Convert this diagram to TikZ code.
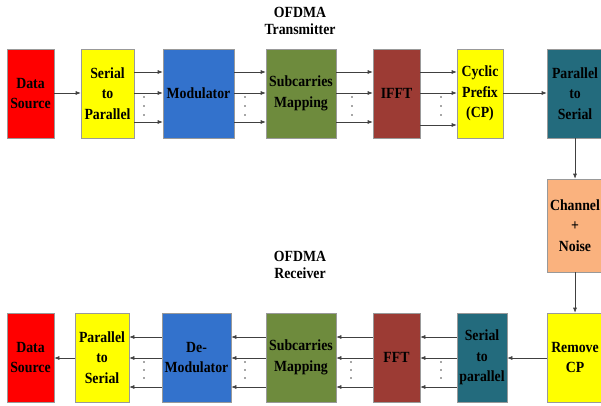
\documentclass[tikz,border=0pt]{standalone}
\usepackage{fontspec}
\setmainfont{Liberation Serif}[FakeStretch=0.89]
\usetikzlibrary{arrows.meta}
\definecolor{cRed}{HTML}{FF0000}
\definecolor{cYellow}{HTML}{FFFF00}
\definecolor{cBlue}{HTML}{3372CC}
\definecolor{cGreen}{HTML}{6E8B3D}
\definecolor{cBrown}{HTML}{9C3B34}
\definecolor{cTeal}{HTML}{236B7D}
\definecolor{cOrange}{HTML}{FAB27E}
\definecolor{cLine}{HTML}{404040}
\tikzset{
  blk/.style={draw=gray!80, line width=0.6pt, minimum height=89pt, inner sep=0pt,
    align=center, font=\fontsize{15.5}{20.5}\selectfont\bfseries},
  title/.style={align=center, font=\fontsize{15.5}{17}\selectfont\bfseries},
  flow/.style={draw=cLine, line width=0.6pt, -{Latex[length=5pt,width=4pt]}},
  dot/.style={fill=black!70},
}
% three vertical dots between parallel lines
\newcommand\vdotsat[4]{%
  \fill[dot] (#1,#2) circle (0.9pt) (#1,#3) circle (0.9pt) (#1,#4) circle (0.9pt);}
\begin{document}
\begin{tikzpicture}[x=1pt,y=-1pt]
\useasboundingbox (0,0) rectangle (601,406);
\clip (0,0) rectangle (601,406);

% titles
\node[title] (ttx) at (300,21) {OFDMA\\Transmitter};
\node[title] (trx) at (300,265) {OFDMA\\Receiver};

% transmitter chain
\node[blk, fill=cRed,    minimum width=47pt] (ds)   at (30.5,93.5)  {Data\\Source};
\node[blk, fill=cYellow, minimum width=53pt] (sp)   at (107.5,93.5) {Serial\\to\\Parallel};
\node[blk, fill=cBlue,   minimum width=71pt] (mod)  at (198.5,93.5) {Modulator};
\node[blk, fill=cGreen,  minimum width=70pt] (map)  at (301,93.5)   {Subcarries\\Mapping};
\node[blk, fill=cBrown,  minimum width=47pt] (ifft) at (396.5,93.5) {IFFT};
\node[blk, fill=cYellow, minimum width=46pt] (cp)   at (480,93.5)   {Cyclic\\Prefix\\(CP)};
\node[blk, fill=cTeal,   minimum width=56pt] (ps)   at (575,93.5)   {Parallel\\to\\Serial};

% channel
\node[blk, fill=cOrange, minimum width=56pt, minimum height=93pt] (ch) at (575,225.5) {Channel\\+\\Noise};

% receiver chain
\node[blk, fill=cYellow, minimum width=56pt] (rcp)  at (575,357.5) {Remove\\CP};
\node[blk, fill=cTeal,   minimum width=50pt] (s2p)  at (482,357.5) {Serial\\to\\parallel};
\node[blk, fill=cBrown,  minimum width=47pt] (fft)  at (396.5,357.5) {FFT};
\node[blk, fill=cGreen,  minimum width=70pt] (rmap) at (301,357.5)  {Subcarries\\Mapping};
\node[blk, fill=cBlue,   minimum width=69pt] (dem)  at (196.5,357.5) {De-\\Modulator};
\node[blk, fill=cYellow, minimum width=54pt] (p2s)  at (102,357.5)  {Parallel\\to\\Serial};
\node[blk, fill=cRed,    minimum width=47pt] (rds)  at (30.5,357.5) {Data\\Source};

% transmitter connectors
\draw[flow] (ds.east |- 0,93) -- (sp.west |- 0,93);
\foreach \a/\b in {sp/mod, mod/map, map/ifft} {
  \draw[flow] (\a.east |- 0,72)  -- (\b.west |- 0,72);
  \draw[flow] (\a.east |- 0,93)  -- (\b.west |- 0,93);
  \draw[flow] (\a.east |- 0,122) -- (\b.west |- 0,122);
}
\draw[flow] (ifft.east |- 0,72)  -- (cp.west |- 0,72);
\draw[flow] (ifft.east |- 0,93)  -- (cp.west |- 0,93);
\draw[flow] (ifft.east |- 0,125) -- (cp.west |- 0,125);
\draw[flow] (cp.east |- 0,93) -- (ps.west |- 0,93);
\vdotsat{144}{97}{106}{115}
\vdotsat{245}{97}{106}{115}
\vdotsat{352}{97}{106}{115}
\vdotsat{441}{97}{106}{115}

% vertical path through the channel
\draw[flow] (ps.south) -- (ch.north);
\draw[flow] (ch.south) -- (rcp.north);

% receiver connectors
\draw[flow] (rcp.west |- 0,358) -- (s2p.east |- 0,358);
\foreach \a/\b in {s2p/fft, fft/rmap, rmap/dem, dem/p2s} {
  \draw[flow] (\a.west |- 0,337) -- (\b.east |- 0,337);
  \draw[flow] (\a.west |- 0,358) -- (\b.east |- 0,358);
  \draw[flow] (\a.west |- 0,387) -- (\b.east |- 0,387);
}
\draw[flow] (p2s.west |- 0,358) -- (rds.east |- 0,358);
\vdotsat{144}{362}{370}{378}
\vdotsat{245}{362}{370}{378}
\vdotsat{351}{362}{370}{378}
\vdotsat{441}{362}{370}{378}
\end{tikzpicture}
\end{document}
